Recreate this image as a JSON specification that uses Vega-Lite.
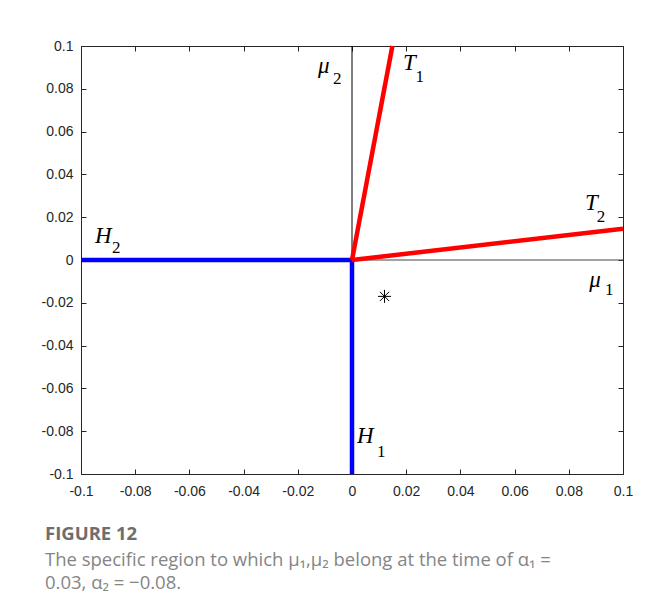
{
  "$schema": "https://vega.github.io/schema/vega-lite/v6.json",
  "width": 542,
  "height": 428,
  "autosize": {"type": "none"},
  "padding": {"left": 81, "top": 46, "right": 33, "bottom": 140},
  "background": "white",
  "config": {
    "view": {"stroke": "#262626", "strokeWidth": 1},
    "axis": {
      "domain": false,
      "grid": false,
      "tickSize": -5,
      "tickColor": "#262626",
      "tickWidth": 1,
      "title": null
    },
    "title": {
      "font": "Open Sans",
      "fontSize": 18.5,
      "fontWeight": "bold",
      "color": "#6e6e6e",
      "subtitleFont": "Open Sans",
      "subtitleFontSize": 18.5,
      "subtitleFontWeight": "normal",
      "subtitleColor": "#858585",
      "subtitleLineHeight": 23,
      "subtitlePadding": 7
    }
  },
  "title": {
    "text": "FIGURE 12",
    "subtitle": ["The specific region to which μ₁,μ₂ belong at the time of α₁ =", "0.03, α₂ = −0.08."],
    "orient": "bottom",
    "anchor": "start",
    "frame": "group",
    "offset": 27,
    "dx": -36
  },
  "datasets": {
    "segments": [
      {"seg": "H2", "kind": "H", "x": -0.1, "y": 0},
      {"seg": "H2", "kind": "H", "x": 0, "y": 0},
      {"seg": "H1", "kind": "H", "x": 0, "y": 0},
      {"seg": "H1", "kind": "H", "x": 0, "y": -0.1},
      {"seg": "T1", "kind": "T", "x": 0, "y": 0},
      {"seg": "T1", "kind": "T", "x": 0.0149, "y": 0.1},
      {"seg": "T2", "kind": "T", "x": 0, "y": 0},
      {"seg": "T2", "kind": "T", "x": 0.1, "y": 0.0146}
    ],
    "mainLabels": [
      {"label": "μ", "x": -0.01255, "y": 0.0874},
      {"label": "T", "x": 0.0188, "y": 0.0888},
      {"label": "T", "x": 0.086, "y": 0.0234},
      {"label": "H", "x": -0.0948, "y": 0.0079},
      {"label": "μ", "x": 0.0875, "y": -0.0126},
      {"label": "H", "x": 0.0018, "y": -0.0855}
    ],
    "subLabels": [
      {"label": "2", "x": -0.007, "y": 0.0822},
      {"label": "1", "x": 0.0234, "y": 0.0832},
      {"label": "2", "x": 0.0903, "y": 0.0178},
      {"label": "2", "x": -0.0886, "y": 0.0033},
      {"label": "1", "x": 0.0934, "y": -0.0164},
      {"label": "1", "x": 0.0092, "y": -0.0921}
    ],
    "point": [{"x": 0.012, "y": -0.017}],
    "zeroX": [{"x": 0}],
    "zeroY": [{"y": 0}]
  },
  "resolve": {"axis": {"x": "independent", "y": "independent"}},
  "layer": [
    {
      "data": {"name": "zeroX"},
      "mark": {"type": "rule", "color": "#000000", "strokeWidth": 1},
      "encoding": {
        "x": {"field": "x", "type": "quantitative",
              "scale": {"domain": [-0.1, 0.1], "nice": false, "zero": false},
              "axis": {"orient": "bottom", "values": [-0.1, -0.08, -0.06, -0.04, -0.02, 0, 0.02, 0.04, 0.06, 0.08, 0.1],
                       "labelExpr": "toString(datum.value)", "labelPadding": 15, "labelFlush": false,
                       "labelFont": "Liberation Sans", "labelFontSize": 14, "labelColor": "#262626"}}
      }
    },
    {
      "data": {"name": "zeroY"},
      "mark": {"type": "rule", "color": "#444444", "strokeWidth": 1},
      "encoding": {
        "y": {"field": "y", "type": "quantitative",
              "scale": {"domain": [-0.1, 0.1], "nice": false, "zero": false},
              "axis": {"orient": "left", "values": [-0.1, -0.08, -0.06, -0.04, -0.02, 0, 0.02, 0.04, 0.06, 0.08, 0.1],
                       "labelExpr": "toString(datum.value)", "labelPadding": 13, "labelFlush": false,
                       "labelFont": "Liberation Sans", "labelFontSize": 14, "labelColor": "#262626"}}
      }
    },
    {
      "data": {"name": "segments"},
      "mark": {"type": "line", "strokeWidth": 4.5, "strokeCap": "butt"},
      "encoding": {
        "x": {"field": "x", "type": "quantitative", "axis": null},
        "y": {"field": "y", "type": "quantitative", "axis": null},
        "detail": {"field": "seg"},
        "color": {"field": "kind", "type": "nominal", "scale": {"domain": ["H", "T"], "range": ["#0000ff", "#ff0000"]}, "legend": null}
      }
    },
    {
      "data": {"name": "point"},
      "mark": {"type": "point", "shape": "M-1,0L1,0M0,-1L0,1M-0.7,-0.7L0.7,0.7M-0.7,0.7L0.7,-0.7", "size": 170, "stroke": "#000000", "strokeWidth": 1, "filled": false, "opacity": 1},
      "encoding": {
        "x": {"field": "x", "type": "quantitative",
              "axis": {"orient": "top", "labels": false, "values": [-0.1, -0.08, -0.06, -0.04, -0.02, 0, 0.02, 0.04, 0.06, 0.08, 0.1]}},
        "y": {"field": "y", "type": "quantitative",
              "axis": {"orient": "right", "labels": false, "values": [-0.1, -0.08, -0.06, -0.04, -0.02, 0, 0.02, 0.04, 0.06, 0.08, 0.1]}}
      }
    },
    {
      "data": {"name": "mainLabels"},
      "mark": {"type": "text", "font": "Liberation Serif", "fontStyle": "italic", "fontSize": 23, "align": "left", "baseline": "alphabetic", "color": "#000000"},
      "encoding": {
        "x": {"field": "x", "type": "quantitative", "axis": null},
        "y": {"field": "y", "type": "quantitative", "axis": null},
        "text": {"field": "label"}
      }
    },
    {
      "data": {"name": "subLabels"},
      "mark": {"type": "text", "font": "Liberation Serif", "fontSize": 17, "align": "left", "baseline": "alphabetic", "color": "#000000"},
      "encoding": {
        "x": {"field": "x", "type": "quantitative", "axis": null},
        "y": {"field": "y", "type": "quantitative", "axis": null},
        "text": {"field": "label"}
      }
    }
  ]
}
